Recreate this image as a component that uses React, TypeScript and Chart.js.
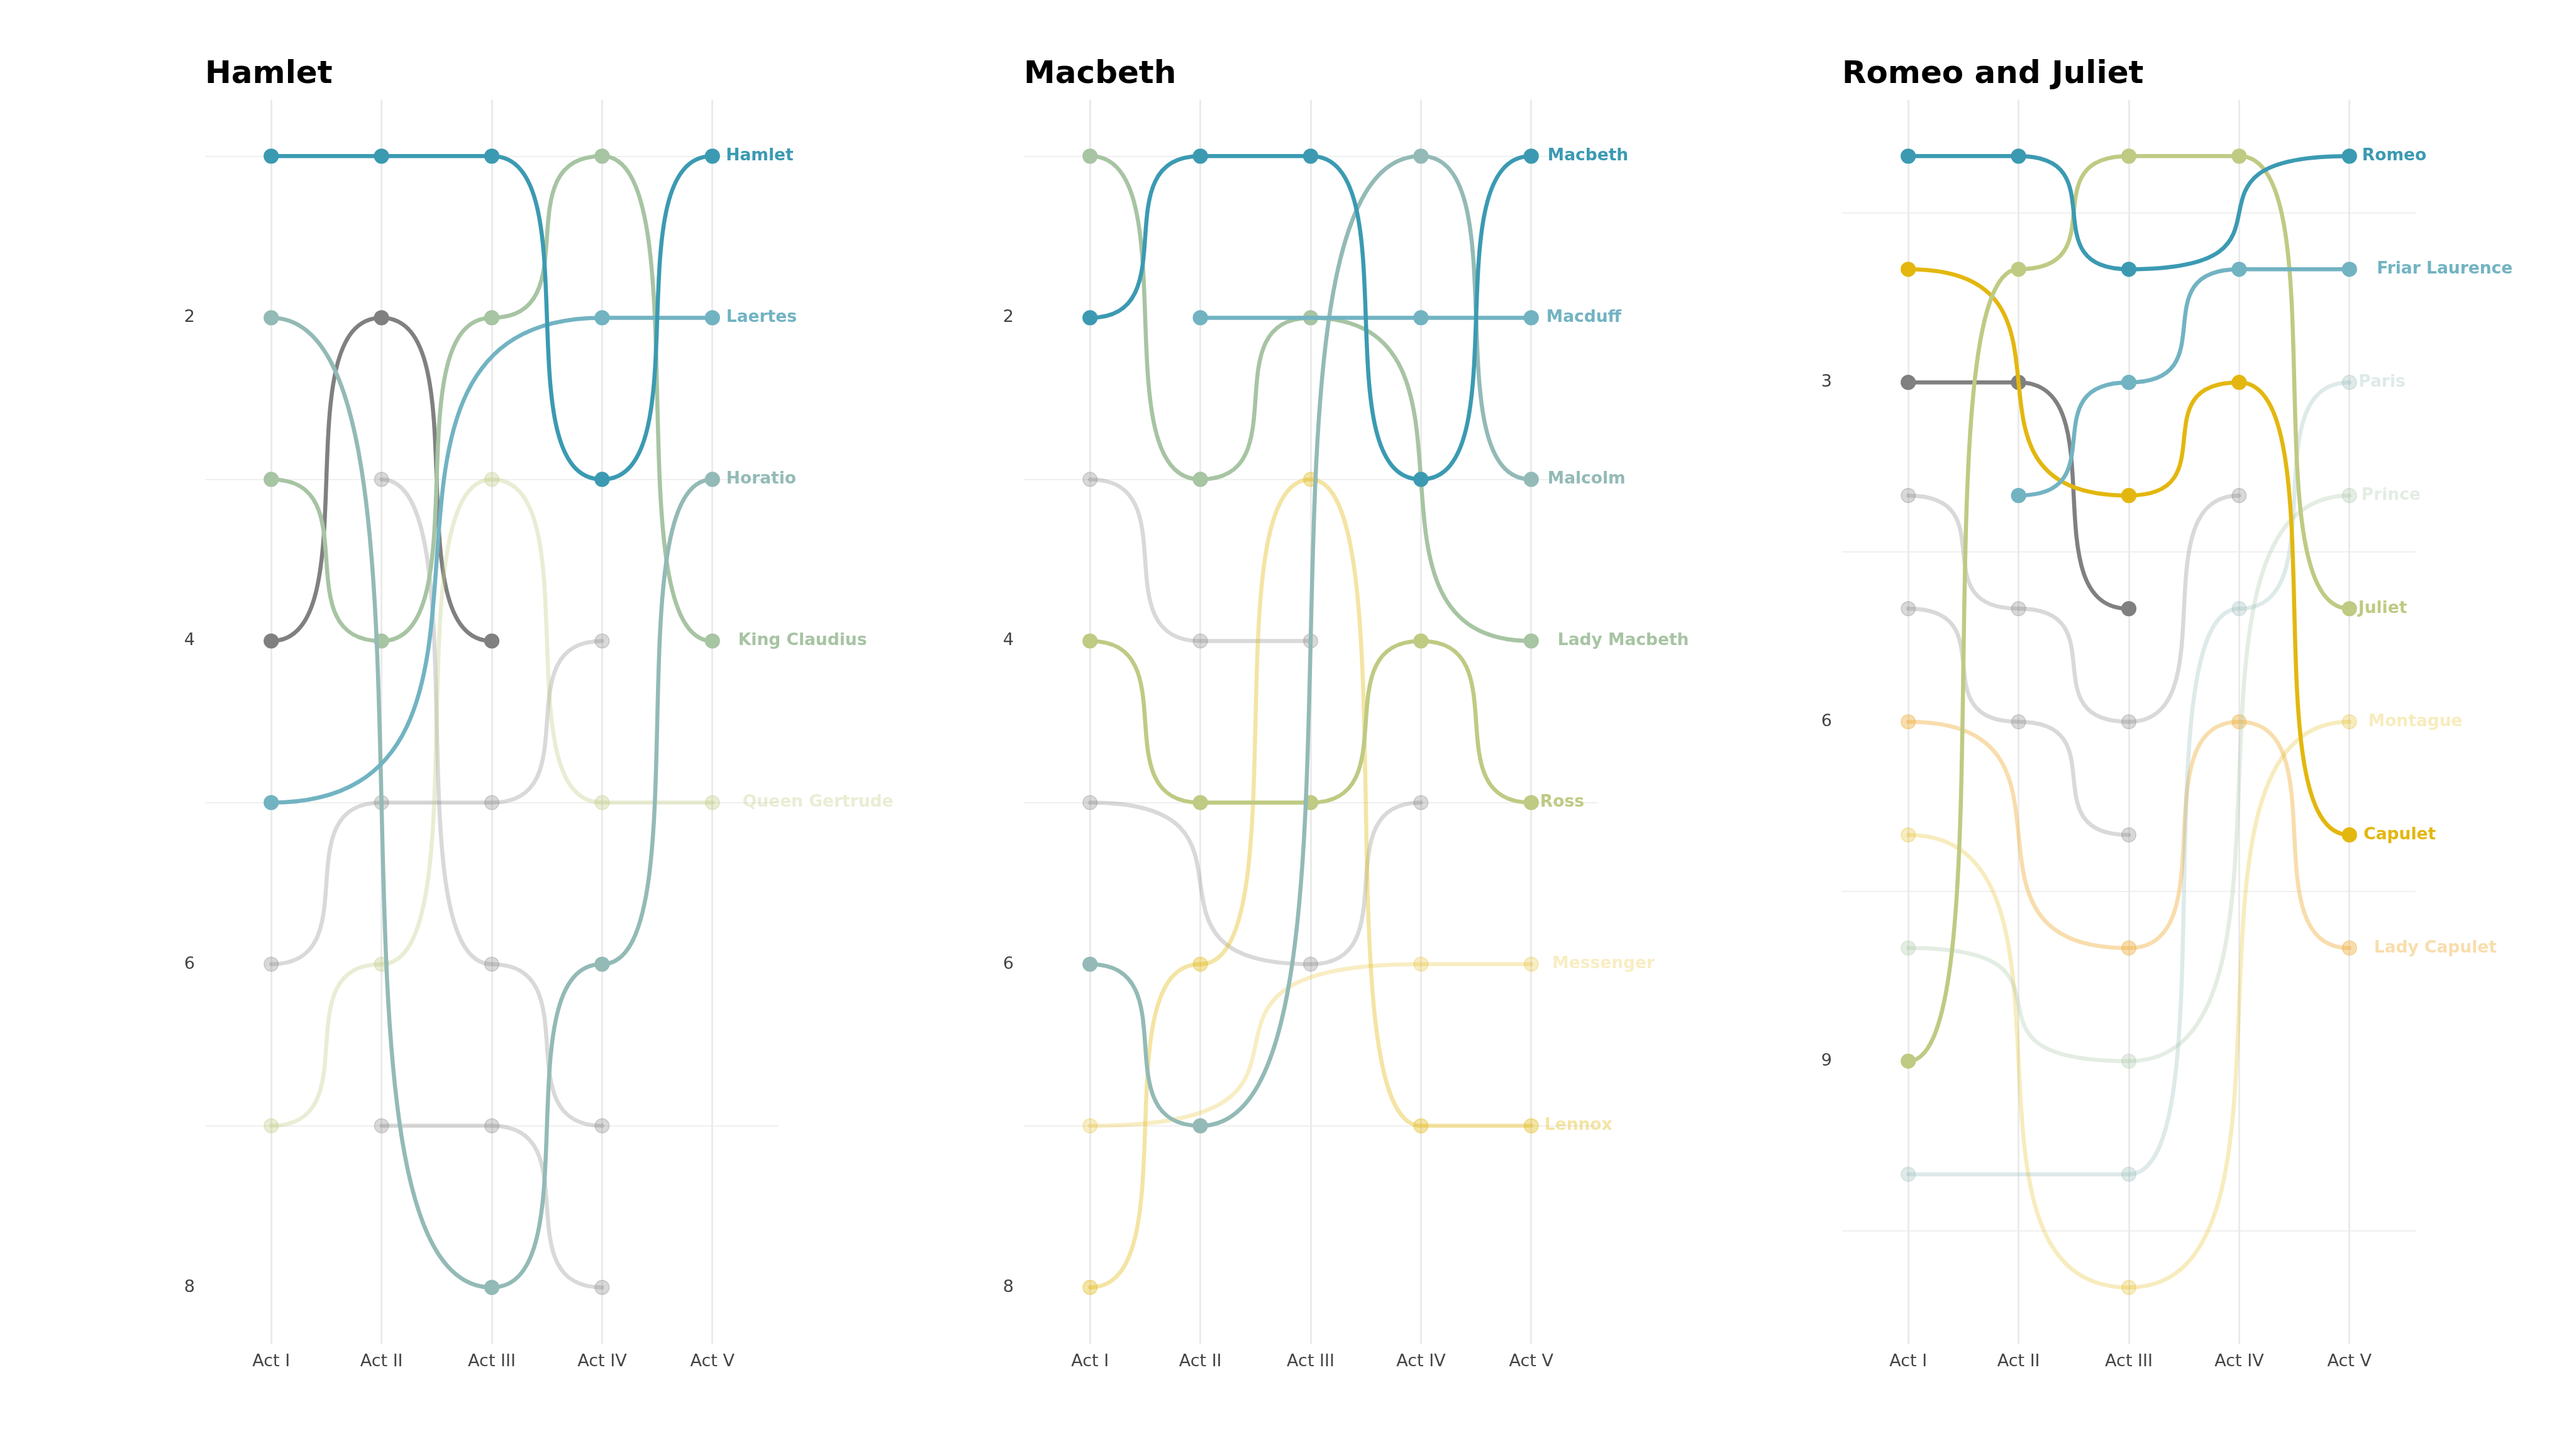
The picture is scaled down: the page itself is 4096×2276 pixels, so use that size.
import React, { useEffect, useRef } from 'react';
import { Chart, registerables } from 'chart.js';

Chart.register(...registerables);
Chart.defaults.font.family = "'DejaVu Sans', sans-serif";

// ---------- data ----------
const ACTS = ['Act I', 'Act II', 'Act III', 'Act IV', 'Act V'];

const hamletNames = ['Hamlet', 'Laertes', 'Horatio', 'King Claudius', 'Queen Gertrude', 'Polonius', 'Ophelia', 'Rosencrantz', 'Guildenstern'];
const hamletRanks: (number | null)[][] = [
  [1, 1, 1, 3, 1],
  [5, null, null, 2, 2],
  [2, null, 8, 6, 3],
  [3, 4, 2, 1, 4],
  [7, 6, 3, 5, 5],
  [4, 2, 4, null, null],
  [6, 5, 5, 4, null],
  [null, 3, 6, 7, null],
  [null, 7, 7, 8, null],
];

const macbethNames = ['Macbeth', 'Macduff', 'Malcolm', 'Lady Macbeth', 'Ross', 'Messenger', 'Lennox', 'Banquo', 'First Witch'];
const macbethRanks: (number | null)[][] = [
  [2, 1, 1, 3, 1],
  [null, 2, null, 2, 2],
  [6, 7, null, 1, 3],
  [1, 3, 2, null, 4],
  [4, 5, 5, 4, 5],
  [7, null, null, 6, 6],
  [8, 6, 3, 7, 7],
  [3, 4, 4, null, null],
  [5, null, 6, 5, null],
];

const romeoNames = ['Romeo', 'Friar Laurence', 'Juliet', 'Capulet', 'Paris', 'Prince', 'Montague', 'Lady Capulet', 'Mercutio', 'Nurse', 'Benvolio'];
const romeoRanks: (number | null)[][] = [
  [1, 1, 2, null, 1],
  [null, 4, 3, 2, 2],
  [9, 2, 1, 1, 5],
  [2, null, 4, 3, 7],
  [10, null, 10, 5, 3],
  [8, null, 9, null, 4],
  [7, null, 11, null, 6],
  [6, null, 8, 6, 8],
  [3, 3, 5, null, null],
  [4, 5, 6, 4, null],
  [5, 6, 7, null, null],
];

const hamletTickLabels = [2, 4, 6, 8];
const hamletGridTicks = [1, 3, 5, 7];
const romeoTickLabels = [3, 6, 9];
const romeoGridTicks = [1.5, 4.5, 7.5, 10.5];

// ---------- styles ----------
const BLUE = '#3B9AB2';
const LBLUE = '#72B3C2';
const TEAL = '#93BAB6';
const SAGE = '#A7C4A3';
const OLIVE = '#BFCA83';
const GOLD = '#E3B70F';
const ORANGE = '#F0B44A';
const DGRAY = '#808080';

const hamletColors = [BLUE, LBLUE, TEAL, SAGE, OLIVE, DGRAY, DGRAY, DGRAY, DGRAY];
const hamletAlphas = [1, 1, 1, 1, 0.35, 1, 0.3, 0.3, 0.3];
const hamletNudge = [21.5, 22, 22, 41, 48, 0, 0, 0, 0];

const macbethColors = [BLUE, LBLUE, TEAL, SAGE, OLIVE, GOLD, GOLD, DGRAY, DGRAY];
const macbethAlphas = [1, 1, 1, 1, 1, 0.25, 0.38, 0.3, 0.3];
const macbethNudge = [26, 24, 26, 42, 14, 33.5, 21, 0, 0];

const romeoColors = [BLUE, LBLUE, OLIVE, GOLD, TEAL, SAGE, GOLD, ORANGE, DGRAY, DGRAY, DGRAY];
const romeoAlphas = [1, 1, 1, 1, 0.3, 0.3, 0.27, 0.45, 1, 0.3, 0.3];
const romeoNudge = [20, 43.5, 14, 22.5, 14.5, 19, 30, 39, 0, 0, 0];

const W = 4096;
const H = 2276;
const PLOT_TOP = 158.4;
const PLOT_BOTTOM = 2137.6;
const Y_AXIS_W = 120;
const PLOT_W = 912;
const K = 0.9;

function rgba(hex: string, a: number) {
  const n = parseInt(hex.slice(1), 16);
  return `rgba(${(n >> 16) & 255},${(n >> 8) & 255},${n & 255},${a})`;
}

const sigmoidCurves = {
  id: 'sigmoidCurves',
  beforeDatasetDraw(chart: any, args: any) {
    const meta = args.meta;
    const line = meta.dataset;
    const pts = meta.data.filter((p: any) => !p.skip);
    for (let i = 0; i < pts.length; i++) {
      const p = pts[i];
      const prev = pts[i - 1];
      const next = pts[i + 1];
      p.cp1x = prev ? p.x - K * (p.x - prev.x) : p.x;
      p.cp1y = p.y;
      p.cp2x = next ? p.x + K * (next.x - p.x) : p.x;
      p.cp2y = p.y;
    }
    if (line) {
      line._pointsUpdated = true;
      line._path = undefined;
    }
  },
};

const endLabels = {
  id: 'endLabels',
  afterDatasetsDraw(chart: any, _args: any, opts: any) {
    const ctx = chart.ctx;
    ctx.save();
    ctx.font = "bold 26.5px 'DejaVu Sans'";
    ctx.textBaseline = 'middle';
    ctx.textAlign = 'left';
    chart.data.datasets.forEach((ds: any, i: number) => {
      const meta = chart.getDatasetMeta(i);
      const pt = meta.data[4];
      if (!pt || pt.skip || ds.data[4] == null) return;
      ctx.fillStyle = ds.labelColor;
      ctx.fillText(ds.label, pt.x + opts.nudge[i], pt.y);
    });
    ctx.font = "bold 50px 'DejaVu Sans'";
    ctx.textBaseline = 'alphabetic';
    ctx.fillStyle = '#000000';
    ctx.fillText(opts.title, chart.chartArea.left, 132);
    ctx.restore();
  },
};

type PanelProps = {
  title: string;
  names: string[];
  ranks: (number | null)[][];
  colors: string[];
  alphas: number[];
  nudge: number[];
  yMin: number;
  yMax: number;
  yTicks: number[];
  tickLabels: number[];
  gridTicks: number[];
  left: number;
  width: number;
};

function Panel(props: PanelProps) {
  const ref = useRef<HTMLCanvasElement | null>(null);
  useEffect(() => {
    if (!ref.current) return;
    const datasets = props.names.map((name, i) => {
      const c = rgba(props.colors[i], props.alphas[i]);
      return {
        label: name,
        labelColor: c,
        data: props.ranks[i].map((r, j) => ({ x: j, y: r })),
        borderColor: c,
        backgroundColor: c,
        borderWidth: 6.5,
        pointRadius: 11.3,
        pointBorderWidth: 1.6,
        pointBackgroundColor: c,
        pointBorderColor: c,
        pointHoverRadius: 11.3,
        tension: 0.4,
        spanGaps: true,
        borderCapStyle: 'round',
        clip: false,
      } as any;
    });
    const chart = new Chart(ref.current, {
      type: 'line',
      data: { datasets },
      plugins: [sigmoidCurves, endLabels],
      options: {
        animation: false,
        responsive: false,
        maintainAspectRatio: false,
        devicePixelRatio: 1,
        parsing: false as any,
        normalized: true,
        layout: {
          padding: { top: PLOT_TOP, left: 0, bottom: 0, right: props.width - Y_AXIS_W - PLOT_W },
        },
        events: [],
        plugins: {
          legend: { display: false },
          tooltip: { enabled: false },
          title: { display: false },
          endLabels: { nudge: props.nudge, title: props.title },
        } as any,
        scales: {
          x: {
            type: 'linear',
            min: -0.6,
            max: 4.6,
            afterBuildTicks: (s: any) => {
              s.ticks = ACTS.map((_, i) => ({ value: i }));
            },
            afterFit: (s: any) => {
              s.height = H - PLOT_BOTTOM;
            },
            ticks: {
              callback: (v: any) => ACTS[v] ?? '',
              color: '#444444',
              font: { size: 27 },
              padding: 12,
              autoSkip: false,
              maxRotation: 0,
              minRotation: 0,
            },
            grid: { color: '#ebebeb', lineWidth: 3, drawTicks: false },
            border: { display: false },
          },
          y: {
            type: 'linear',
            reverse: true,
            min: props.yMin,
            max: props.yMax,
            afterBuildTicks: (s: any) => {
              s.ticks = props.yTicks.map((v) => ({ value: v }));
            },
            afterFit: (s: any) => {
              s.width = Y_AXIS_W;
            },
            ticks: {
              callback: (v: any) => (props.tickLabels.includes(v) ? String(v) : ''),
              color: '#444444',
              font: { size: 27 },
              padding: 16,
              autoSkip: false,
            },
            grid: {
              color: (c: any) => (props.gridTicks.includes(c.tick?.value) ? '#ebebeb' : 'rgba(0,0,0,0)'),
              lineWidth: 1.6,
              drawTicks: false,
            },
            border: { display: false },
          },
        } as any,
      },
    });
    return () => chart.destroy();
  }, []);
  return (
    <canvas
      ref={ref}
      width={props.width}
      height={H}
      style={{ position: 'absolute', left: props.left, top: 0, width: props.width, height: H }}
    />
  );
}

export default function App() {
  useEffect(() => {
    document.body.style.margin = '0';
    document.body.style.overflow = 'hidden';
  }, []);
  const hamTicks = [1, 2, 3, 4, 5, 6, 7, 8];
  const romTicks = [1.5, 3, 4.5, 6, 7.5, 9, 10.5];
  return (
    <div style={{ position: 'absolute', left: 0, top: 0, width: W, height: H, background: '#ffffff', overflow: 'hidden' }}>
      <Panel
        title="Hamlet"
        names={hamletNames}
        ranks={hamletRanks}
        colors={hamletColors}
        alphas={hamletAlphas}
        nudge={hamletNudge}
        yMin={0.65}
        yMax={8.35}
        yTicks={hamTicks}
        tickLabels={hamletTickLabels}
        gridTicks={hamletGridTicks}
        left={206}
        width={1302}
      />
      <Panel
        title="Macbeth"
        names={macbethNames}
        ranks={macbethRanks}
        colors={macbethColors}
        alphas={macbethAlphas}
        nudge={macbethNudge}
        yMin={0.65}
        yMax={8.35}
        yTicks={hamTicks}
        tickLabels={hamletTickLabels}
        gridTicks={hamletGridTicks}
        left={1508}
        width={1301}
      />
      <Panel
        title="Romeo and Juliet"
        names={romeoNames}
        ranks={romeoRanks}
        colors={romeoColors}
        alphas={romeoAlphas}
        nudge={romeoNudge}
        yMin={0.5}
        yMax={11.5}
        yTicks={romTicks}
        tickLabels={romeoTickLabels}
        gridTicks={romeoGridTicks}
        left={2809}
        width={W - 2809}
      />
    </div>
  );
}
